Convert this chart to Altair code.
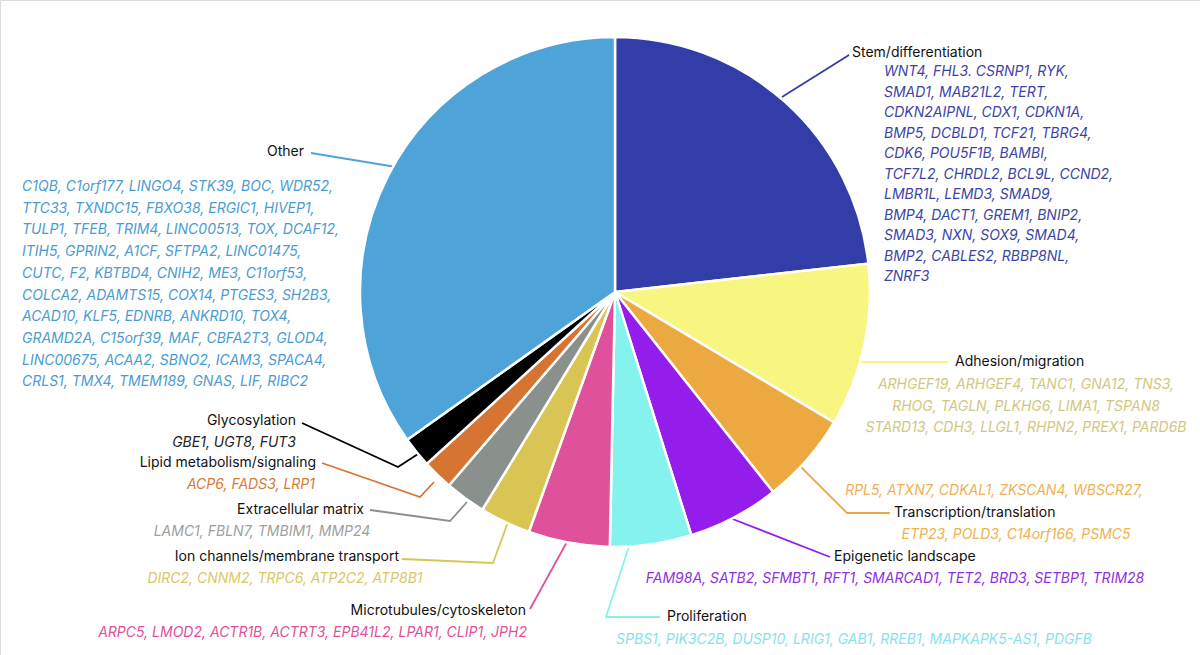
import altair as alt
import pandas as pd

FONT = "Inter"

# ---- data (number of genes listed per category) ----
categories = [
    "Stem/differentiation", "Adhesion/migration", "Transcription/translation",
    "Epigenetic landscape", "Proliferation", "Microtubules/cytoskeleton",
    "Ion channels/membrane transport", "Extracellular matrix",
    "Lipid metabolism/signaling", "Glycosylation", "Other",
]
gene_counts = [36, 16, 9, 9, 8, 8, 5, 4, 3, 3, 54]
slice_colors = [
    "#333DA8", "#F8F680", "#ECA941", "#951DEB", "#85F2EE", "#E0519B",
    "#D8C553", "#8A918C", "#D67532", "#000000", "#4EA3D8",
]
text_colors = [
    "#3B44A6", "#CFC77E", "#EEB052", "#8F2FE0", "#86E2EA", "#E0509B",
    "#D9C765", "#9B9FA0", "#D77A35", "#222222", "#4A9BD2",
]

gene_lines = {
    "Stem/differentiation": [
        "WNT4, FHL3. CSRNP1, RYK,", "SMAD1, MAB21L2, TERT,",
        "CDKN2AIPNL, CDX1, CDKN1A,", "BMP5, DCBLD1, TCF21, TBRG4,",
        "CDK6, POU5F1B, BAMBI,", "TCF7L2, CHRDL2, BCL9L, CCND2,",
        "LMBR1L, LEMD3, SMAD9,", "BMP4, DACT1, GREM1, BNIP2,",
        "SMAD3, NXN, SOX9, SMAD4,", "BMP2, CABLES2, RBBP8NL,", "ZNRF3",
    ],
    "Adhesion/migration": [
        "ARHGEF19, ARHGEF4, TANC1, GNA12, TNS3,",
        "RHOG, TAGLN, PLKHG6, LIMA1, TSPAN8",
        "STARD13, CDH3, LLGL1, RHPN2, PREX1, PARD6B",
    ],
    "Transcription/translation": [
        "RPL5, ATXN7, CDKAL1, ZKSCAN4, WBSCR27,",
        "ETP23, POLD3, C14orf166, PSMC5",
    ],
    "Epigenetic landscape": [
        "FAM98A, SATB2, SFMBT1, RFT1, SMARCAD1, TET2, BRD3, SETBP1, TRIM28",
    ],
    "Proliferation": [
        "SPBS1, PIK3C2B, DUSP10, LRIG1, GAB1, RREB1, MAPKAPK5-AS1, PDGFB",
    ],
    "Microtubules/cytoskeleton": [
        "ARPC5, LMOD2, ACTR1B, ACTRT3, EPB41L2, LPAR1, CLIP1, JPH2",
    ],
    "Ion channels/membrane transport": ["DIRC2, CNNM2, TRPC6, ATP2C2, ATP8B1"],
    "Extracellular matrix": ["LAMC1, FBLN7, TMBIM1, MMP24"],
    "Lipid metabolism/signaling": ["ACP6, FADS3, LRP1"],
    "Glycosylation": ["GBE1, UGT8, FUT3"],
    "Other": [
        "C1QB, C1orf177, LINGO4, STK39, BOC, WDR52,",
        "TTC33, TXNDC15, FBXO38, ERGIC1, HIVEP1,",
        "TULP1, TFEB, TRIM4, LINC00513, TOX, DCAF12,",
        "ITIH5, GPRIN2, A1CF, SFTPA2, LINC01475,",
        "CUTC, F2, KBTBD4, CNIH2, ME3, C11orf53,",
        "COLCA2, ADAMTS15, COX14, PTGES3, SH2B3,",
        "ACAD10, KLF5, EDNRB, ANKRD10, TOX4,",
        "GRAMD2A, C15orf39, MAF, CBFA2T3, GLOD4,",
        "LINC00675, ACAA2, SBNO2, ICAM3, SPACA4,",
        "CRLS1, TMX4, TMEM189, GNAS, LIF, RIBC2",
    ],
}

# ---- layout (pixel positions of annotations) ----
CX, CY, R = 615, 292, 255
W, H = 1200, 655

# label: (x, y, align); genes: first line y, line step, x, align
label_layout = {
    "Stem/differentiation": ((852, 53, "left"), (72, 20.5, 884, "left")),
    "Adhesion/migration": ((955, 362, "left"), (385, 21.5, 1026, "center")),
    "Transcription/translation": ((894, 513, "left"), None),
    "Epigenetic landscape": ((834, 557, "left"), (579, 0, 895, "center")),
    "Proliferation": ((667, 617, "left"), (640, 0, 854, "center")),
    "Microtubules/cytoskeleton": ((526, 611, "right"), (633, 0, 527, "right")),
    "Ion channels/membrane transport": ((399, 557, "right"), (579, 0, 285, "center")),
    "Extracellular matrix": ((364, 510, "right"), (532, 0, 262, "center")),
    "Lipid metabolism/signaling": ((316, 463, "right"), (485, 0, 315, "right")),
    "Glycosylation": ((296, 421, "right"), (443, 0, 296, "right")),
    "Other": ((304, 152, "right"), (187, 21.7, 22, "left")),
}
# transcription genes sit above and below its label
transcription_gene_pos = [(994, 491), (1016, 535)]

leaders = {
    "Stem/differentiation": [(849, 55), (782, 97)],
    "Adhesion/migration": [(948, 362), (858, 362)],
    "Transcription/translation": [(890, 513), (847, 513), (800, 466)],
    "Epigenetic landscape": [(830, 557), (730, 518)],
    "Proliferation": [(660, 617), (606, 617), (630, 543)],
    "Microtubules/cytoskeleton": [(530, 609), (568, 540)],
    "Ion channels/membrane transport": [(402, 559), (493, 563), (508, 522)],
    "Extracellular matrix": [(370, 510), (450, 521), (467, 502)],
    "Lipid metabolism/signaling": [(322, 463), (420, 497), (434, 482)],
    "Glycosylation": [(302, 423), (398, 467), (418, 454)],
    "Other": [(311, 153), (396, 167)],
}

# ---- build tables ----
pie_df = pd.DataFrame({
    "category": categories,
    "count": gene_counts,
    "order": list(range(len(categories))),
    "color": slice_colors,
})

lead_rows = []
for cat, col in zip(categories, slice_colors):
    for i, (px, py) in enumerate(leaders[cat]):
        lead_rows.append({"category": cat, "idx": i, "px": px, "py": py, "color": col})
lead_df = pd.DataFrame(lead_rows)

text_rows = []
for cat, tcol in zip(categories, text_colors):
    (lx, ly, lal), gl = label_layout[cat]
    text_rows.append({"text": cat, "px": lx, "py": ly, "align": lal,
                      "italic": False, "color": "#111111"})
    lines = gene_lines[cat]
    if cat == "Transcription/translation":
        for t, (gx, gy) in zip(lines, transcription_gene_pos):
            text_rows.append({"text": t, "px": gx, "py": gy, "align": "center",
                              "italic": True, "color": tcol})
    else:
        y0, step, gx, gal = gl
        for k, t in enumerate(lines):
            text_rows.append({"text": t, "px": gx, "py": y0 + k * step, "align": gal,
                              "italic": True, "color": tcol})
text_df = pd.DataFrame(text_rows)

xs = alt.Scale(domain=[0, W], range=[0, W])
ys = alt.Scale(domain=[0, H], range=[0, H])

lines_layer = alt.Chart(lead_df).mark_line(strokeWidth=1.8).encode(
    x=alt.X("px:Q", scale=xs, axis=None),
    y=alt.Y("py:Q", scale=ys, axis=None),
    detail="category:N",
    order="idx:Q",
    color=alt.Color("color:N", scale=None),
)

pie_layer = alt.Chart(pie_df).mark_arc(
    outerRadius=R, stroke="white", strokeWidth=2.5
).encode(
    theta=alt.Theta("count:Q", stack=True),
    order=alt.Order("order:Q"),
    color=alt.Color("color:N", scale=None),
    x=alt.value(CX),
    y=alt.value(CY),
)

layers = [lines_layer, pie_layer]
for al in ["left", "center", "right"]:
    for it in [False, True]:
        sub = text_df[(text_df["align"] == al) & (text_df["italic"] == it)]
        if len(sub) == 0:
            continue
        layers.append(
            alt.Chart(sub).mark_text(
                align=al, baseline="middle", font=FONT, fontSize=14,
                fontStyle="italic" if it else "normal",
            ).encode(
                x=alt.X("px:Q", scale=xs, axis=None),
                y=alt.Y("py:Q", scale=ys, axis=None),
                text="text:N",
                color=alt.Color("color:N", scale=None),
            )
        )

chart = alt.layer(*layers).properties(
    width=W, height=H, padding=0,
    autosize=alt.AutoSizeParams(type="none"),
).configure_view(stroke=None).configure(background="white")

chart.save("out.html", embed_options={"renderer": "svg", "actions": False})
